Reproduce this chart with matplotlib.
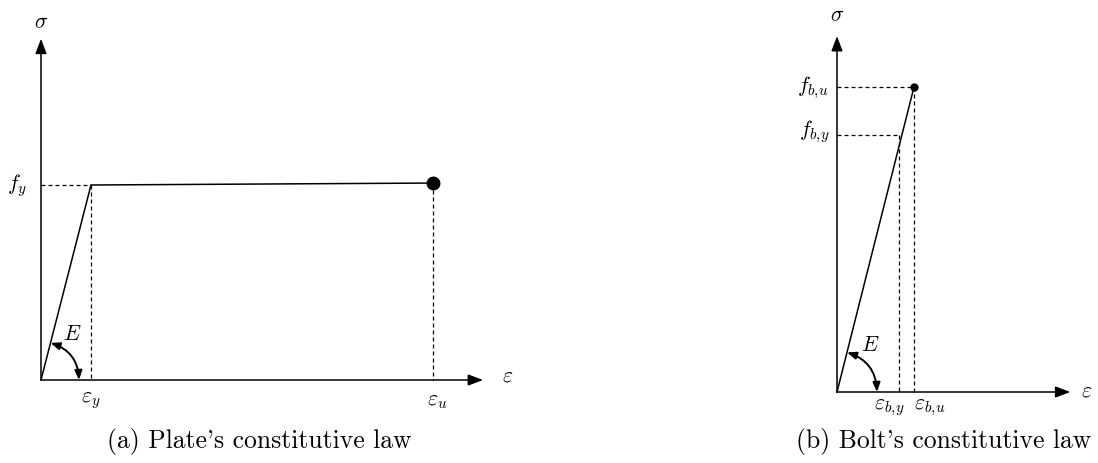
import matplotlib
matplotlib.use("Agg")
import matplotlib.pyplot as plt
from matplotlib.patches import FancyArrowPatch

plt.rcParams["mathtext.fontset"] = "cm"

# plate: elastic - perfectly plastic law (normalised units)
plate_eps = [0.0, 1.0, 7.84]      # origin, eps_y, eps_u
plate_sig = [0.0, 1.0, 1.01]      # origin, f_y, f_u
plate_axis_end = (8.84, 1.75)

# bolt: linear up to rupture
bolt_eps_y, bolt_eps_u = 0.81, 1.0
bolt_f_y, bolt_f_u = 0.843, 1.0
bolt_axis_end = (3.03, 1.167)

W, H = 1098, 464
fig = plt.figure(figsize=(W / 100, H / 100), dpi=100)

LW = 1.1
DASH = dict(color="black", lw=0.9, linestyle=(0, (3.2, 2.4)))
MATH = dict(fontsize=15.5, color="black")


def make_axes(left_px, width_px, x0_px, y0_px, sx, sy):
    # x0_px, y0_px: pixel position of the origin (y from the top)
    ax = fig.add_axes([left_px / W, 0, width_px / W, 1])
    ax.set_xlim(-(x0_px - left_px) / sx, (left_px + width_px - x0_px) / sx)
    ax.set_ylim(-(H - y0_px) / sy, y0_px / sy)
    ax.axis("off")
    return ax


def draw_axes(ax, xend, yend):
    for tip in [(xend, 0), (0, yend)]:
        ax.annotate("", xy=tip, xytext=(0, 0),
                    arrowprops=dict(arrowstyle="-|>,head_length=0.45,head_width=0.17",
                                    mutation_scale=20, lw=LW, color="black",
                                    shrinkA=0, shrinkB=0))


def draw_modulus(ax, start, end):
    arc = FancyArrowPatch(start, end, connectionstyle="arc3,rad=-0.34",
                          arrowstyle="<|-|>,head_length=0.5,head_width=0.2",
                          mutation_scale=11, lw=1.4, color="black",
                          shrinkA=0, shrinkB=0)
    ax.add_patch(arc)


def label(ax, text, xy, dx, dy, ha="center"):
    ax.annotate(text, xy=xy, xytext=(dx, dy), textcoords="offset pixels",
                ha=ha, va="center", **MATH)


# (a) plate
ax1 = make_axes(0, 549, 41, 381, 50, 195)
draw_axes(ax1, *plate_axis_end)
ax1.plot(plate_eps, plate_sig, color="black", lw=LW)
ax1.plot(plate_eps[2], plate_sig[2], "o", color="black", ms=9)
ax1.plot([0, plate_eps[1]], [plate_sig[1], plate_sig[1]], **DASH)
ax1.plot([plate_eps[1], plate_eps[1]], [plate_sig[1], 0], **DASH)
ax1.plot([plate_eps[2], plate_eps[2]], [plate_sig[2], 0], **DASH)
t = 0.19
draw_modulus(ax1, (t * plate_eps[1], t * plate_sig[1]), (0.76, 0))
label(ax1, r"$E$", (0, 0), 31, 47)
label(ax1, r"$f_y$", (0, plate_sig[1]), -24, 0)
label(ax1, r"$\varepsilon_y$", (plate_eps[1], 0), 0, -20)
label(ax1, r"$\varepsilon_u$", (plate_eps[2], 0), 4, -20)
label(ax1, r"$\sigma$", (0, plate_axis_end[1]), 0, 18)
label(ax1, r"$\varepsilon$", (plate_axis_end[0], 0), 25, 5)

# (b) bolt
ax2 = make_axes(549, 549, 837, 393, 77, 305)
draw_axes(ax2, *bolt_axis_end)
ax2.plot([0, bolt_eps_u], [0, bolt_f_u], color="black", lw=LW)
ax2.plot(bolt_eps_u, bolt_f_u, "o", color="black", ms=5)
ax2.plot([0, bolt_eps_u], [bolt_f_u, bolt_f_u], **DASH)
ax2.plot([0, bolt_eps_y], [bolt_f_y, bolt_f_y], **DASH)
ax2.plot([bolt_eps_y, bolt_eps_y], [bolt_f_y, 0], **DASH)
ax2.plot([bolt_eps_u, bolt_eps_u], [bolt_f_u, 0], **DASH)
t = 0.13
draw_modulus(ax2, (t * bolt_eps_u, t * bolt_f_u), (40 / 77, 0))
label(ax2, r"$E$", (0, 0), 33, 48)
label(ax2, r"$f_{b,\!u}$", (0, bolt_f_u), -24, 0)
label(ax2, r"$f_{b,\!y}$", (0, bolt_f_y), -22, 4)
label(ax2, r"$\varepsilon_{b,\!y}$", (bolt_eps_y, 0), -10, -15)
label(ax2, r"$\varepsilon_{b,\!u}$", (bolt_eps_u, 0), 16, -15)
label(ax2, r"$\sigma$", (0, bolt_axis_end[1]), 0, 22)
label(ax2, r"$\varepsilon$", (bolt_axis_end[0], 0), 16, 2)

# captions
fig.text(259 / W, 1 - 442 / H, "(a) Plate's constitutive law",
         family="cmr10", fontsize=18.5, ha="center", va="center")
fig.text(944 / W, 1 - 442 / H, "(b) Bolt's constitutive law",
         family="cmr10", fontsize=18.5, ha="center", va="center")

fig.savefig("out.png", dpi=100)
